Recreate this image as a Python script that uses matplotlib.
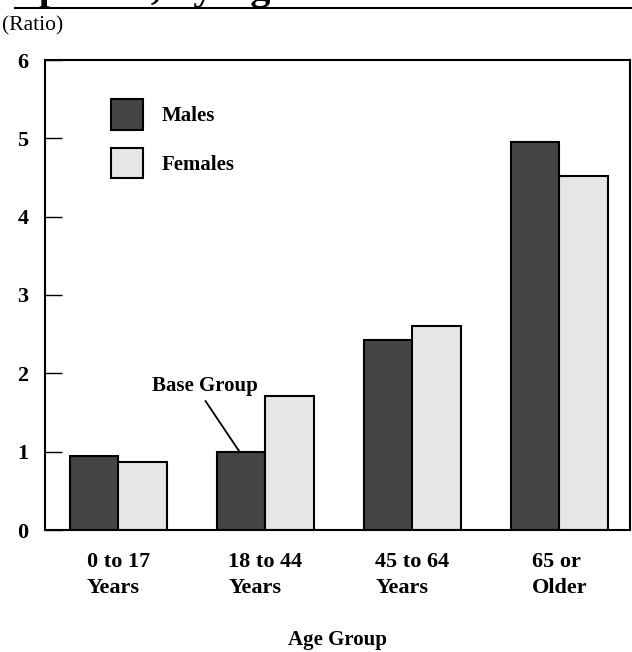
import numpy as np
import matplotlib.pyplot as plt
from matplotlib.lines import Line2D

plt.rcParams['font.family'] = ['Liberation Serif', 'DejaVu Serif']

# data
age_groups = ['0 to 17\nYears', '18 to 44\nYears', '45 to 64\nYears', '65 or\nOlder']
males = [0.94, 1.00, 2.43, 4.95]
females = [0.87, 1.71, 2.61, 4.52]
y_ticks = [0, 1, 2, 3, 4, 5, 6]

COLOURS = {'Males': '#444444', 'Females': '#e6e6e6'}

fig = plt.figure(figsize=(6.32, 6.52), dpi=100)
ax = fig.add_axes([45 / 632, 1 - 530 / 652, 585 / 632, 470 / 652])

x = np.arange(len(age_groups))
w = 0.333
ax.bar(x - w / 2, males, w, color=COLOURS['Males'], edgecolor='black',
       linewidth=1.5, label='Males')
ax.bar(x + w / 2, females, w, color=COLOURS['Females'], edgecolor='black',
       linewidth=1.5, label='Females')

ax.set_xlim(-0.5, 3.48)
ax.set_ylim(0, 6)
ax.set_yticks(y_ticks)
ax.set_yticklabels([str(t) for t in y_ticks], fontsize=16, fontweight='bold')
ax.tick_params(axis='y', direction='in', length=12, width=1, pad=12)
ax.set_xticks(x)
ax.set_xticklabels(age_groups, fontsize=16, fontweight='bold',
                   multialignment='left', linespacing=1.4)
ax.tick_params(axis='x', length=0, pad=16)
for s in ax.spines.values():
    s.set_linewidth(1.5)

ax.set_xlabel('Age Group', fontsize=15, fontweight='bold', labelpad=23)

ax.legend(loc='upper left', bbox_to_anchor=(0.113, 0.917), borderaxespad=0,
          borderpad=0, frameon=False, prop={'size': 15, 'weight': 'bold'},
          handlelength=1.54, handleheight=1.9, labelspacing=0.85,
          handletextpad=0.9)

ax.annotate('Base Group', xy=(0.823, males[1]), xytext=(0.59, 1.84),
            fontsize=15, fontweight='bold', ha='center', va='center',
            arrowprops=dict(arrowstyle='-', color='black', lw=1.3,
                            shrinkA=2, shrinkB=0, relpos=(0.47, 0)))

# ratio unit label and clipped title remnant at top
fig.text(2 / 632, 1 - 26 / 652, '(Ratio)', fontsize=15.5, va='center', ha='left')
fig.text(-8 / 632, 1 + 1 / 652, 'Expenses, by Age', fontsize=29,
         fontweight='bold', va='baseline', ha='left')
fig.add_artist(Line2D([15 / 632, 1], [1 - 8 / 652, 1 - 8 / 652],
                      transform=fig.transFigure, color='black', lw=1.5))

fig.savefig('out.png', dpi=100)
